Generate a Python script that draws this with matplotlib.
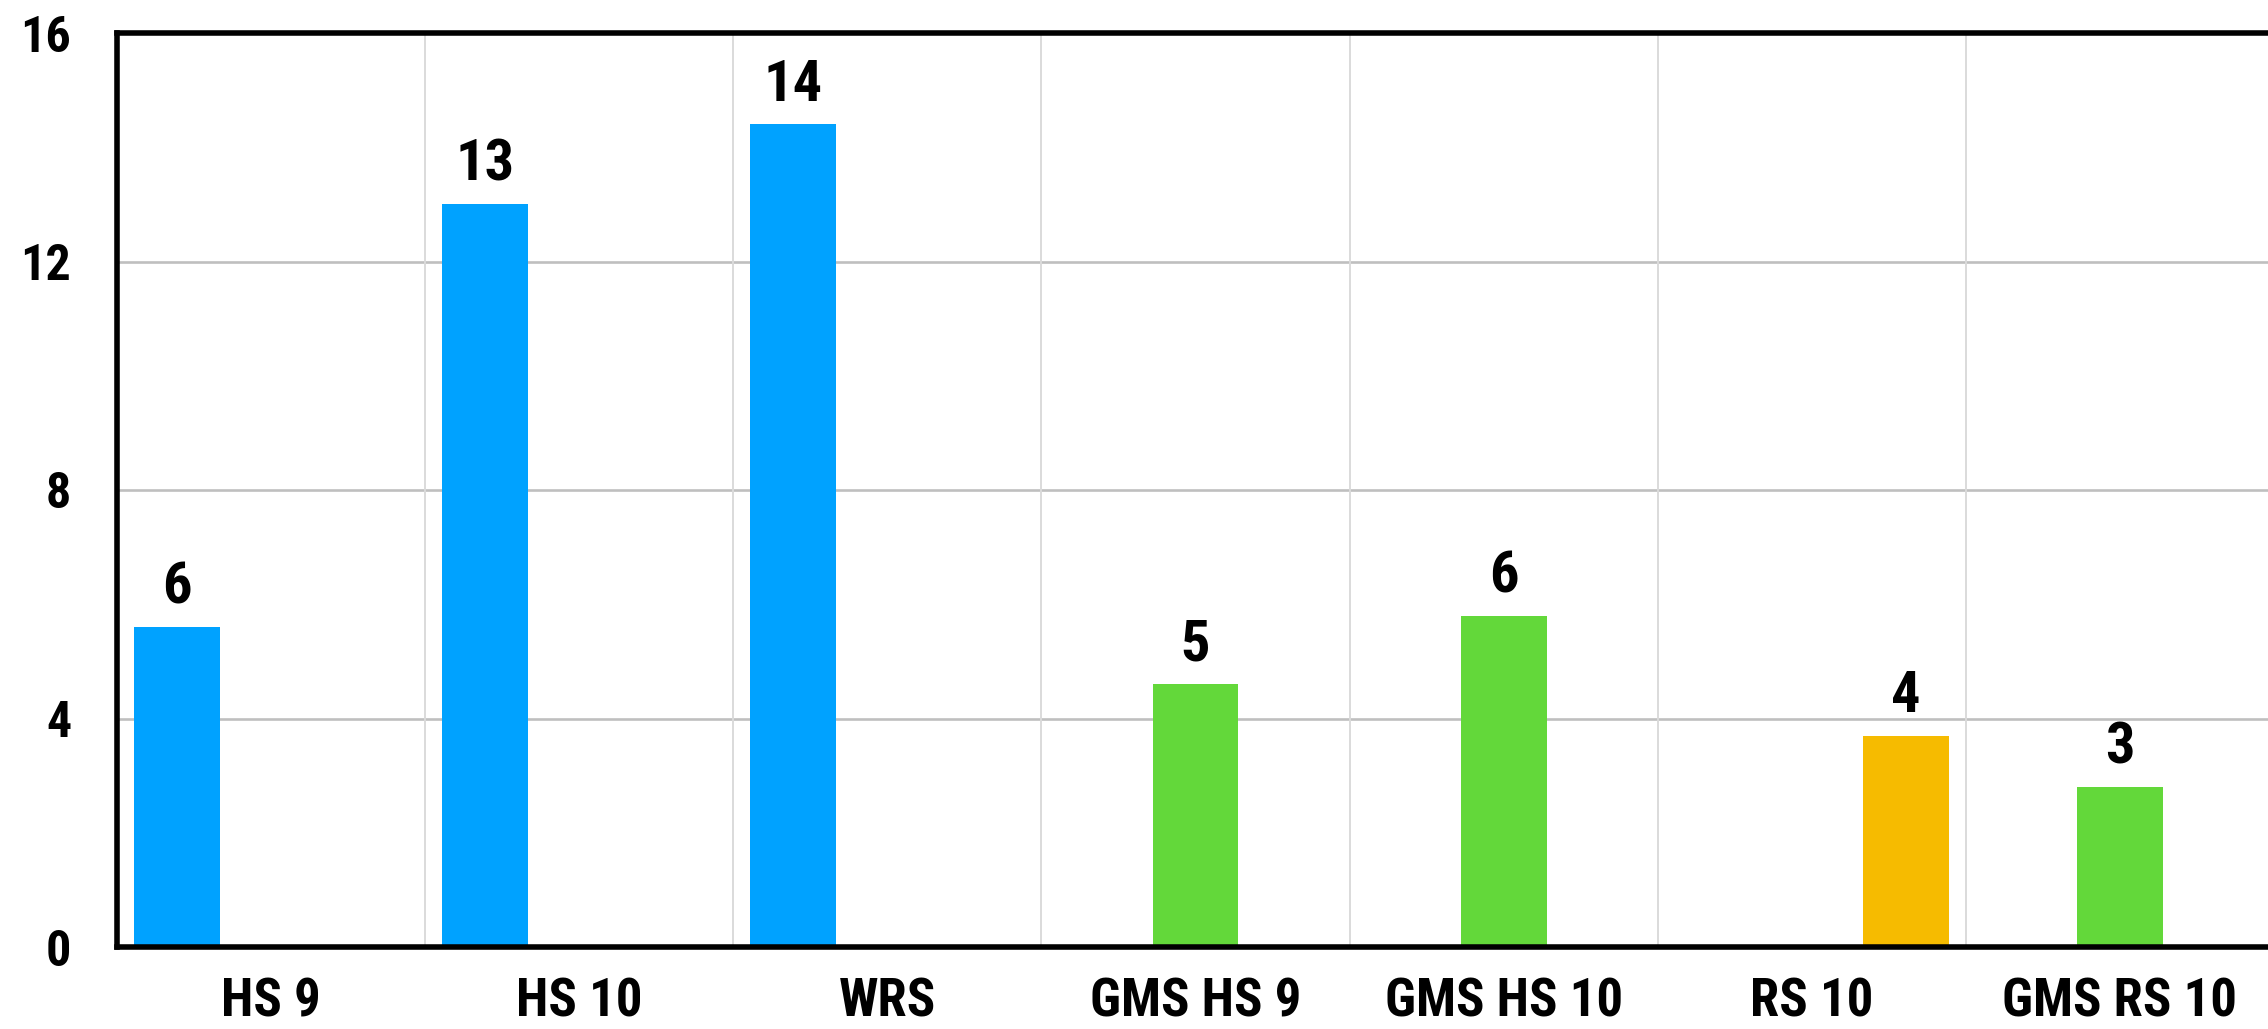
import matplotlib
matplotlib.use("Agg")
import matplotlib.pyplot as plt
from matplotlib import font_manager as fm
import numpy as np

categories = ["HS 9", "HS 10", "WRS", "GMS HS 9", "GMS HS 10", "RS 10", "GMS RS 10"]
blue_vals = [5.6, 13.0, 14.4, 0, 0, 0, 0]
green_vals = [0, 0, 0, 4.6, 5.8, 0, 2.8]
orange_vals = [0, 0, 0, 0, 0, 3.7, 0]
y_ticks = [0, 4, 8, 12, 16]

colors = ["#00A2FF", "#63D83A", "#F6BB00"]
series = [blue_vals, green_vals, orange_vals]
offsets = [-0.306, 0.0, 0.306]
bar_w = 0.279

# pick a condensed bold font if one is installed
names = {f.name for f in fm.fontManager.ttflist}
cond = [f for f in fm.fontManager.ttflist
        if f.name == 'DejaVu Sans' and 'ondensed' in f.fname and 'Bold' in f.fname and 'Oblique' not in f.fname]
font_kw = {}
if 'Roboto Condensed' in names:
    family = ['Roboto Condensed', 'DejaVu Sans']
elif 'Liberation Sans Narrow' in names:
    family = ['Liberation Sans Narrow', 'DejaVu Sans']
elif cond:
    family = ['DejaVu Sans']
    font_kw = {'fontstretch': 'condensed'}
else:
    family = ['Roboto', 'DejaVu Sans']
plt.rcParams['font.family'] = family
plt.rcParams['font.weight'] = 'bold'
if font_kw:
    plt.rcParams['font.stretch'] = 'condensed'

fig = plt.figure(figsize=(22.68, 10.29), dpi=100)
ax = fig.add_axes([117/2268, 82/1029, (2274-117)/2268, 914/1029])

x = np.arange(len(categories))
for vals, off, col in zip(series, offsets, colors):
    vals = np.array(vals, dtype=float)
    mask = vals > 0
    bars = ax.bar(x[mask] + off, vals[mask], width=bar_w, color=col, zorder=3, linewidth=0)
    for b, v in zip(bars, vals[mask]):
        ax.annotate(f"{round(v):d}", (b.get_x() + b.get_width()/2, v),
                    xytext=(0, 17), textcoords='offset points',
                    ha='center', va='baseline', fontsize=42, fontweight='bold', color='black')

ax.set_xlim(-0.5, 6.5)
ax.set_ylim(0, 16)
ax.set_yticks(y_ticks)
ax.set_yticklabels([str(t) for t in y_ticks])
ax.set_xticks(x)
ax.set_xticklabels(categories)
ax.tick_params(axis='both', length=0)
ax.tick_params(axis='y', pad=33, labelsize=36)
ax.tick_params(axis='x', pad=21, labelsize=38)
for lab in ax.get_xticklabels() + ax.get_yticklabels():
    lab.set_fontweight('bold')

for yv in y_ticks[1:-1]:
    ax.axhline(yv, color='#BFBFBF', lw=1.9, zorder=1)
for xb in np.arange(0.5, len(categories) - 0.5, 1.0):
    ax.axvline(xb, color='#DADADA', lw=1.4, zorder=1)

for s in ['top', 'left', 'bottom', 'right']:
    ax.spines[s].set_linewidth(4)
    ax.spines[s].set_color('black')
    ax.spines[s].set_zorder(4)

fig.savefig("out.png", dpi=100, facecolor='white')
